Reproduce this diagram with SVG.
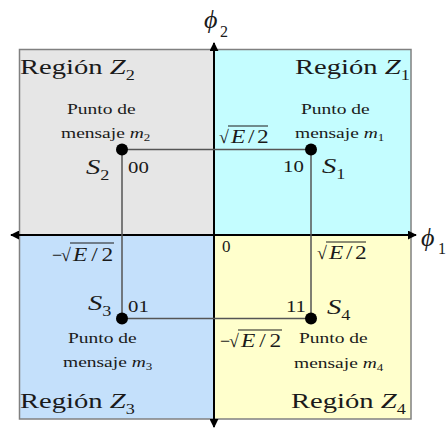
<svg xmlns="http://www.w3.org/2000/svg" width="446" height="430" viewBox="0 0 446 430">
<defs>
<marker id="ah" viewBox="0 0 10 10" refX="9" refY="5" markerWidth="4.5" markerHeight="4.5" orient="auto-start-reverse" markerUnits="strokeWidth">
<path d="M0,0 L10,5 L0,10 z" fill="#000"/>
</marker>
</defs>

<g id="regions">
<rect x="19.5" y="49.5" width="194.5" height="185.5" fill="#e6e6e6"/>
<rect x="214" y="49.5" width="197" height="185.5" fill="#c4fdff"/>
<rect x="19.5" y="235" width="194.5" height="184" fill="#c4e0fb"/>
<rect x="214" y="235" width="197" height="184" fill="#ffffcc"/>
<rect x="19.5" y="49.5" width="391.5" height="369.5" fill="none" stroke="#808080" stroke-width="1.5"/>
</g>

<g id="axes" stroke="#000" stroke-width="2" fill="none">
<line x1="214" y1="427" x2="214" y2="43" marker-start="url(#ah)" marker-end="url(#ah)"/>
<line x1="11" y1="235" x2="416" y2="235" marker-start="url(#ah)" marker-end="url(#ah)"/>
</g>

<g id="connectors" stroke="#555" stroke-width="1.5" fill="none">
<line x1="122" y1="149.5" x2="311" y2="149.5"/>
<line x1="122" y1="149.5" x2="122" y2="318.5"/>
<line x1="311" y1="149.5" x2="311" y2="318.5"/>
<line x1="122" y1="318.5" x2="311" y2="318.5"/>
</g>

<g id="labels" font-family="Liberation Serif, serif" fill="#1a1a1a">
<text transform="translate(20,74) scale(1.3,1)" font-size="22">Región <tspan font-style="italic">Z</tspan><tspan font-size="14" dy="6">2</tspan></text>
<text transform="translate(295,74) scale(1.3,1)" font-size="22">Región <tspan font-style="italic">Z</tspan><tspan font-size="14" dy="6">1</tspan></text>
<text transform="translate(20,408) scale(1.3,1)" font-size="22">Región <tspan font-style="italic">Z</tspan><tspan font-size="14" dy="6">3</tspan></text>
<text transform="translate(291,408) scale(1.3,1)" font-size="22">Región <tspan font-style="italic">Z</tspan><tspan font-size="14" dy="6">4</tspan></text>
<text x="204" y="28" font-size="26" font-style="italic">ϕ</text><text x="220" y="37" font-size="16">2</text>
<text x="421" y="246" font-size="26" font-style="italic">ϕ</text><text x="438" y="254" font-size="16">1</text>
<text x="222" y="252" font-size="17">0</text>
</g>

<g id="labels-sqrt" font-family="Liberation Serif, serif" fill="#1a1a1a" font-size="18">
<text x="219" y="143">√</text>
<text transform="translate(231,143) scale(1.3,1)"><tspan font-style="italic">E</tspan><tspan dx="2">/</tspan><tspan dx="2">2</tspan></text>
<text x="52" y="261">−</text><text x="61" y="261">√</text>
<text transform="translate(73,261) scale(1.3,1)"><tspan font-style="italic">E</tspan><tspan dx="3">/</tspan><tspan dx="3">2</tspan></text>
<text x="317" y="259">√</text>
<text transform="translate(329,259) scale(1.3,1)"><tspan font-style="italic">E</tspan><tspan dx="2">/</tspan><tspan dx="2">2</tspan></text>
<text x="220" y="347">−</text><text x="229" y="347">√</text>
<text transform="translate(241,347) scale(1.3,1)"><tspan font-style="italic">E</tspan><tspan dx="3">/</tspan><tspan dx="3">2</tspan></text>
<g stroke="#1a1a1a" stroke-width="1">
<line x1="228" y1="126" x2="268" y2="126"/>
<line x1="70" y1="243" x2="114" y2="243"/>
<line x1="326" y1="242" x2="366" y2="242"/>
<line x1="238" y1="330" x2="282" y2="330"/>
</g>
</g>

<g id="S1" font-family="Liberation Serif, serif" fill="#1a1a1a">
<circle cx="311" cy="149.5" r="6" fill="#000"/>
<text transform="translate(301,114) scale(1.3,1)" font-size="15">Punto de</text>
<text transform="translate(295,138) scale(1.3,1)" font-size="15">mensaje <tspan font-style="italic">m</tspan><tspan font-size="10" dy="3">1</tspan></text>
<text transform="translate(322,173) scale(1.3,1)" font-size="22" font-style="italic">S<tspan font-size="14" font-style="normal" dy="6">1</tspan></text>
<text transform="translate(283,172) scale(1.3,1)" font-size="16">10</text>
</g>
<g id="S2" font-family="Liberation Serif, serif" fill="#1a1a1a">
<circle cx="122" cy="149.5" r="6" fill="#000"/>
<text transform="translate(67,114) scale(1.3,1)" font-size="15">Punto de</text>
<text transform="translate(61,138) scale(1.3,1)" font-size="15">mensaje <tspan font-style="italic">m</tspan><tspan font-size="10" dy="3">2</tspan></text>
<text transform="translate(86,174) scale(1.3,1)" font-size="22" font-style="italic">S<tspan font-size="14" font-style="normal" dy="6">2</tspan></text>
<text transform="translate(128,173) scale(1.3,1)" font-size="16">00</text>
</g>
<g id="S3" font-family="Liberation Serif, serif" fill="#1a1a1a">
<circle cx="122" cy="318.5" r="6" fill="#000"/>
<text transform="translate(88,310) scale(1.3,1)" font-size="22" font-style="italic">S<tspan font-size="14" font-style="normal" dy="6">3</tspan></text>
<text transform="translate(128,312) scale(1.3,1)" font-size="16">01</text>
<text transform="translate(68,343) scale(1.3,1)" font-size="15">Punto de</text>
<text transform="translate(63,367) scale(1.3,1)" font-size="15">mensaje <tspan font-style="italic">m</tspan><tspan font-size="10" dy="3">3</tspan></text>
</g>
<g id="S4" font-family="Liberation Serif, serif" fill="#1a1a1a">
<circle cx="311" cy="318.5" r="6" fill="#000"/>
<text transform="translate(327,314) scale(1.3,1)" font-size="22" font-style="italic">S<tspan font-size="14" font-style="normal" dy="6">4</tspan></text>
<text transform="translate(286,312) scale(1.3,1)" font-size="16">11</text>
<text transform="translate(299,343) scale(1.3,1)" font-size="15">Punto de</text>
<text transform="translate(294,368) scale(1.3,1)" font-size="15">mensaje <tspan font-style="italic">m</tspan><tspan font-size="10" dy="3">4</tspan></text>
</g>
</svg>
